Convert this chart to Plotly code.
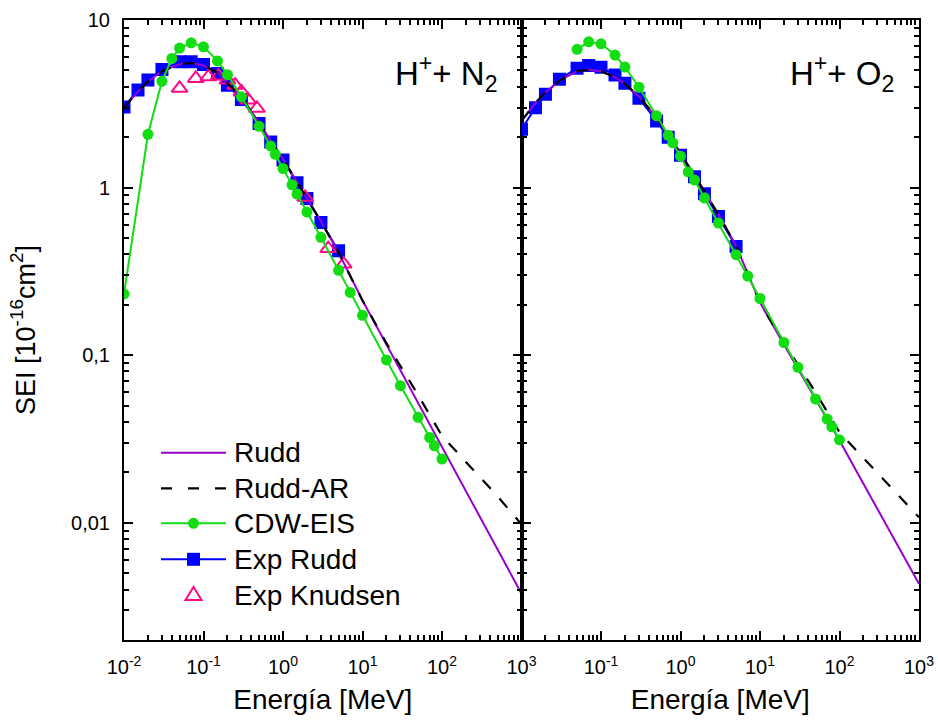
import plotly.graph_objects as go
from plotly.subplots import make_subplots

# ---------------- data : H+ + N2 (left panel) ----------------
n2_theory_E = [0.01, 0.015, 0.02, 0.03, 0.05, 0.07, 0.1, 0.15, 0.2, 0.3, 0.5, 0.7, 1, 2, 3, 5,
               10, 20, 50, 100, 200, 500, 1000]
n2_rudd = [3.0, 3.75, 4.3, 4.95, 5.45, 5.55, 5.35, 4.85, 4.2, 3.45, 2.45, 1.9, 1.48, 0.87, 0.63, 0.41,
           0.212, 0.116, 0.052, 0.0283, 0.0155, 0.0069, 0.00378]
n2_rudd_ar = [3.0, 3.75, 4.3, 4.95, 5.45, 5.55, 5.35, 4.85, 4.2, 3.45, 2.45, 1.9, 1.48, 0.87, 0.63, 0.41,
              0.212, 0.118, 0.058, 0.033, 0.0231, 0.0144, 0.0098]
n2_cdw_E = [0.01, 0.02, 0.03, 0.04, 0.05, 0.07, 0.1, 0.15, 0.2, 0.3, 0.5, 0.7, 0.8, 1, 1.3, 1.5, 2, 3,
            5, 7, 10, 20, 30, 50, 70, 80, 100]
n2_cdw = [0.232, 2.08, 4.31, 5.90, 6.80, 7.31, 6.92, 5.70, 4.72, 3.48, 2.32, 1.77, 1.58, 1.30, 1.04,
          0.916, 0.715, 0.505, 0.321, 0.237, 0.173, 0.0937, 0.0658, 0.0426, 0.0323, 0.0288, 0.024]
n2_exp_E = [0.01, 0.015, 0.02, 0.03, 0.05, 0.07, 0.1, 0.15, 0.2, 0.3, 0.5, 0.7, 1, 1.5, 2, 3, 5]
n2_exp_rudd = [3.03, 3.82, 4.38, 5.07, 5.63, 5.63, 5.43, 4.80, 4.08, 3.36, 2.41, 1.87, 1.46, 1.07,
               0.86, 0.62, 0.42]
n2_knudsen_E = [0.05, 0.08, 0.115, 0.155, 0.2, 0.25, 0.3, 0.365, 0.47, 1.9, 3.7, 5.8]
n2_knudsen = [3.91, 4.48, 4.58, 4.63, 4.38, 4.08, 3.72, 3.33, 2.97, 0.875, 0.433, 0.35]

# ---------------- data : H+ + O2 (right panel) ----------------
o2_theory_E = [0.01, 0.015, 0.02, 0.03, 0.05, 0.07, 0.1, 0.15, 0.2, 0.3, 0.5, 0.7, 1, 2, 3, 5,
               10, 20, 50, 100, 200, 500, 1000]
o2_rudd = [2.5, 3.2, 3.7, 4.35, 4.95, 5.05, 4.95, 4.55, 4.15, 3.5, 2.62, 2.08, 1.6, 0.95, 0.69, 0.45,
           0.206, 0.116, 0.0548, 0.031, 0.0171, 0.0078, 0.00433]
o2_rudd_ar = [2.5, 3.2, 3.7, 4.35, 4.95, 5.05, 4.95, 4.55, 4.15, 3.5, 2.62, 2.08, 1.6, 0.95, 0.69, 0.45,
              0.206, 0.119, 0.060, 0.0347, 0.0244, 0.0153, 0.0108]
o2_cdw_E = [0.05, 0.07, 0.1, 0.15, 0.2, 0.3, 0.5, 0.7, 0.8, 1, 1.25, 1.5, 2, 3, 5, 7, 10, 20, 30,
            50, 70, 80, 100]
o2_cdw = [6.68, 7.41, 7.21, 6.18, 5.24, 3.97, 2.68, 2.05, 1.85, 1.54, 1.24, 1.11, 0.867, 0.614,
          0.398, 0.297, 0.218, 0.119, 0.0847, 0.0548, 0.0416, 0.0374, 0.0313]
o2_exp_E = [0.01, 0.015, 0.02, 0.03, 0.05, 0.07, 0.1, 0.15, 0.2, 0.3, 0.5, 0.7, 1, 1.5, 2, 3, 5]
o2_exp_rudd = [2.23, 3.0, 3.6, 4.43, 5.16, 5.36, 5.22, 4.69, 4.2, 3.41, 2.5, 2.0, 1.56, 1.16, 0.92,
               0.673, 0.446]

# ---------------- tick labels ----------------
x_tickvals_left = [0.01, 0.1, 1, 10, 100, 1000]
x_ticktext_left = ["10<sup>-2</sup>", "10<sup>-1</sup>", "10<sup>0</sup>", "10<sup>1</sup>",
                   "10<sup>2</sup>", "10<sup>3</sup>"]
x_tickvals_right = [0.1, 1, 10, 100, 1000]
x_ticktext_right = ["10<sup>-1</sup>", "10<sup>0</sup>", "10<sup>1</sup>",
                    "10<sup>2</sup>", "10<sup>3</sup>"]
y_tickvals = [0.01, 0.1, 1, 10]
y_ticktext = ["0,01", "0,1", "1", "10"]
panel_labels = ["H<sup>+</sup>+ N<sub>2</sub>", "H<sup>+</sup>+ O<sub>2</sub>"]
legend_names = ["Rudd", "Rudd-AR", "CDW-EIS", "Exp Rudd", "Exp Knudsen"]

# ---------------- styles ----------------
FONT = "Liberation Sans, Arial, sans-serif"
C_RUDD = "#9900CC"
C_AR = "#000000"
C_CDW = "#11DD11"
C_EXP = "#0000FF"
C_KN = "#FF0A85"
AR_DASH = "12px,13px"

W, H = 938, 720
ML, MR, MT, MB = 124, 19, 20, 80
PW, PH = W - ML - MR, H - MT - MB

fig = make_subplots(rows=1, cols=2, shared_yaxes=True, horizontal_spacing=0)

panels = [
    (n2_theory_E, n2_rudd, n2_rudd_ar, n2_cdw_E, n2_cdw, n2_exp_E, n2_exp_rudd, n2_knudsen_E, n2_knudsen),
    (o2_theory_E, o2_rudd, o2_rudd_ar, o2_cdw_E, o2_cdw, o2_exp_E, o2_exp_rudd, None, None),
]

for col, (tE, rudd, ar, cE, cdw, eE, erudd, kE, kn) in enumerate(panels, start=1):
    fig.add_trace(go.Scatter(x=eE, y=erudd, mode="lines+markers", name="Exp Rudd",
                             line=dict(color=C_EXP, width=2),
                             marker=dict(symbol="square", size=13, color=C_EXP)), row=1, col=col)
    if kE is not None:
        fig.add_trace(go.Scatter(x=kE, y=kn, mode="markers", name="Exp Knudsen",
                                 marker=dict(symbol="triangle-up-open", size=14, color=C_KN,
                                             line=dict(width=2, color=C_KN))), row=1, col=col)
    fig.add_trace(go.Scatter(x=tE, y=rudd, mode="lines", name="Rudd",
                             line=dict(color=C_RUDD, width=2)), row=1, col=col)
    fig.add_trace(go.Scatter(x=tE, y=ar, mode="lines", name="Rudd-AR",
                             line=dict(color=C_AR, width=2.2, dash=AR_DASH)), row=1, col=col)
    fig.add_trace(go.Scatter(x=cE, y=cdw, mode="lines+markers", name="CDW-EIS",
                             line=dict(color=C_CDW, width=2),
                             marker=dict(symbol="circle", size=11, color=C_CDW)), row=1, col=col)

minor_x = [m * 10.0 ** e for e in range(-2, 3) for m in range(2, 10)]
minor_y = [m * 10.0 ** e for e in range(-3, 1) for m in range(2, 10)]

axis_common = dict(type="log", showline=True, linecolor="black", linewidth=2, mirror="allticks",
                   ticks="inside", ticklen=9, tickwidth=2, tickcolor="black", showgrid=False,
                   zeroline=False, tickfont=dict(family=FONT, size=20, color="black"),
                   ticklabelstandoff=8,
                   minor=dict(ticks="inside", ticklen=5, tickwidth=1.5, tickcolor="black",
                              showgrid=False, tickmode="array"))

for col, tvals, ttext in [(1, x_tickvals_left, x_ticktext_left), (2, x_tickvals_right, x_ticktext_right)]:
    ax = dict(axis_common)
    ax["minor"] = dict(axis_common["minor"], tickvals=minor_x)
    fig.update_xaxes(**ax, range=[-2, 3], tickmode="array", tickvals=tvals, ticktext=ttext,
                     title=dict(text="Energía [MeV]", font=dict(family=FONT, size=28, color="black"),
                                standoff=12),
                     row=1, col=col)

for col in (1, 2):
    ay = dict(axis_common)
    ay["minor"] = dict(axis_common["minor"], tickvals=minor_y)
    fig.update_yaxes(**ay, range=[-2.699, 1], tickmode="array", tickvals=y_tickvals,
                     ticktext=y_ticktext, showticklabels=(col == 1), row=1, col=col)

fig.update_yaxes(title=dict(text="SEI [10<sup>-16</sup>cm<sup>2</sup>]",
                            font=dict(family=FONT, size=27, color="black"), standoff=28),
                 row=1, col=1)


def pxx(px):
    return (px - ML) / PW


def pxy(py):
    return (H - MB - py) / PH


annotations = []
# panel labels
for txt, right_px in zip(panel_labels, [499, 896]):
    annotations.append(dict(text=txt, x=pxx(right_px), y=pxy(74), xref="paper", yref="paper",
                            xanchor="right", yanchor="middle", showarrow=False,
                            font=dict(family=FONT, size=33, color="black")))

# manual legend (keys drawn as shapes, labels as annotations)
shapes = []
leg_rows = [452.7, 488.3, 523.3, 559.3, 595.0]
lx0, lx1, lmid, ltext = 161, 226, 193.5, 232
for name, row_y in zip(legend_names, leg_rows):
    yp = pxy(row_y)
    annotations.append(dict(text=name, x=pxx(ltext), y=yp, xref="paper", yref="paper",
                            xanchor="left", yanchor="middle", showarrow=False,
                            font=dict(family=FONT, size=28, color="black")))
    if name == "Rudd":
        shapes.append(dict(type="line", xref="paper", yref="paper", x0=pxx(lx0), x1=pxx(lx1),
                           y0=yp, y1=yp, line=dict(color=C_RUDD, width=2)))
    elif name == "Rudd-AR":
        shapes.append(dict(type="line", xref="paper", yref="paper", x0=pxx(lx0), x1=pxx(lx1),
                           y0=yp, y1=yp, line=dict(color=C_AR, width=2.2, dash="11px,16px")))
    elif name == "CDW-EIS":
        shapes.append(dict(type="line", xref="paper", yref="paper", x0=pxx(lx0), x1=pxx(lx1),
                           y0=yp, y1=yp, line=dict(color=C_CDW, width=2)))
        shapes.append(dict(type="circle", xref="paper", yref="paper", xsizemode="pixel",
                           ysizemode="pixel", xanchor=pxx(lmid), yanchor=yp,
                           x0=-5.5, x1=5.5, y0=-5.5, y1=5.5, fillcolor=C_CDW,
                           line=dict(width=0)))
    elif name == "Exp Rudd":
        shapes.append(dict(type="line", xref="paper", yref="paper", x0=pxx(lx0), x1=pxx(lx1),
                           y0=yp, y1=yp, line=dict(color=C_EXP, width=2)))
        shapes.append(dict(type="rect", xref="paper", yref="paper", xsizemode="pixel",
                           ysizemode="pixel", xanchor=pxx(lmid), yanchor=yp,
                           x0=-6.5, x1=6.5, y0=-6.5, y1=6.5, fillcolor=C_EXP,
                           line=dict(width=0)))
    else:
        shapes.append(dict(type="path", xref="paper", yref="paper", xsizemode="pixel",
                           ysizemode="pixel", xanchor=pxx(lmid), yanchor=yp,
                           path="M-8,-5 L8,-5 L0,8 Z", fillcolor="rgba(0,0,0,0)",
                           line=dict(color=C_KN, width=2)))

fig.update_layout(width=W, height=H, margin=dict(l=ML, r=MR, t=MT, b=MB, autoexpand=False),
                  paper_bgcolor="white", plot_bgcolor="white", showlegend=False,
                  font=dict(family=FONT, color="black"),
                  annotations=annotations, shapes=shapes)

fig.write_html("out.html")
